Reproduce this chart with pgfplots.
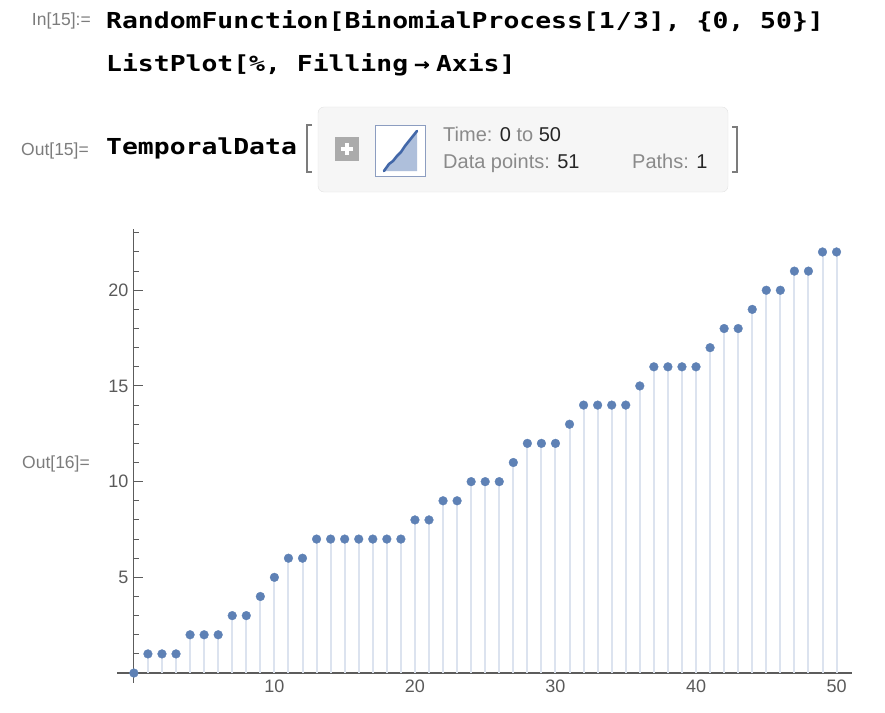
\documentclass[border=0pt]{standalone}
\usepackage{pgfplots}
\pgfplotsset{compat=1.18}
\usepackage{pgfplotstable}
\usepackage{fontspec}
\setmainfont{Liberation Sans}
\newfontfamily\codefont{DejaVu Sans Mono}

\definecolor{markblue}{HTML}{5E81B5}
\definecolor{stemblue}{HTML}{DCE3EF}
\definecolor{axgray}{HTML}{5C5C5C}
\definecolor{lblgray}{HTML}{5A5A5A}
\definecolor{promptgray}{HTML}{7C7C7C}
\definecolor{boxfill}{HTML}{F6F6F6}
\definecolor{boxline}{HTML}{E2E2E2}
\definecolor{infogray}{HTML}{8A8A8A}
\definecolor{thumbline}{HTML}{4267A8}
\definecolor{thumbfill}{HTML}{AEBFDB}
\definecolor{thumbframe}{HTML}{8C9DC0}

\newcommand\code[1]{\scalebox{1.2}[1]{\codefont\bfseries\fontsize{22bp}{26bp}\selectfont #1}}
\newcommand\prompt[1]{{\color{promptgray}\fontsize{17.5bp}{20bp}\selectfont #1}}
\newcommand\info{\fontsize{20bp}{24bp}\selectfont\color{infogray}}
\newcommand\num[1]{{\color{black!85}#1}}

% counts of the binomial process, t = 0..50
\pgfplotstableread{
t  n
0  0
1  1
2  1
3  1
4  2
5  2
6  2
7  3
8  3
9  4
10 5
11 6
12 6
13 7
14 7
15 7
16 7
17 7
18 7
19 7
20 8
21 8
22 9
23 9
24 10
25 10
26 10
27 11
28 12
29 12
30 12
31 13
32 14
33 14
34 14
35 14
36 15
37 16
38 16
39 16
40 16
41 17
42 18
43 18
44 19
45 20
46 20
47 21
48 21
49 22
50 22
}\counts

\begin{document}
\begin{tikzpicture}
\begin{scope}[x=1bp,y=-1bp]
  \path[use as bounding box] (0,0) rectangle (885,713);
  % input cell
  \node[anchor=base east,inner sep=0] at (91,26) {\prompt{In[15]:=}};
  \node[anchor=base west,inner sep=0] at (106,29) {\code{RandomFunction[BinomialProcess[1\kern1bp/\kern1bp3], \{0, 50\}]}};
  \node[anchor=base west,inner sep=0] at (106,72) {\code{ListPlot[\%, Filling\kern5bp→\kern5bp Axis]}};
  % output 15
  \node[anchor=base east,inner sep=0] at (89,156) {\prompt{Out[15]=}};
  \node[anchor=base west,inner sep=0] at (106,155) {\code{TemporalData}};
  \filldraw[fill=boxfill,draw=boxline,rounded corners=6] (318,107) rectangle (728,192);
  \draw[promptgray,line width=1.2] (312,125) -- (307,125) -- (307,172) -- (312,172);
  \draw[promptgray,line width=1.2] (732,127) -- (737,127) -- (737,172) -- (732,172);
  \fill[black!33] (335,137) rectangle (359,161);
  \draw[white,line width=3.5] (341,149) -- (353,149) (347,143) -- (347,155);
  \filldraw[fill=white,draw=thumbframe,line width=1] (375,125) rectangle (425,176);
  \fill[thumbfill] (384,171) -- (389,164) -- (393,161) -- (397,156) -- (401,152) -- (405,146) -- (409,141) -- (413,136) -- (417,131) -- (417,171) -- cycle;
  \draw[thumbline,line width=2.6,line cap=round] (384,171) -- (389,164) -- (393,161) -- (397,156) -- (401,152) -- (405,146) -- (409,141) -- (413,136) -- (417,131);
  \node[anchor=base west,inner sep=0] at (443,142) {\info Time: \num{0} to \num{50}};
  \node[anchor=base west,inner sep=0] at (443,169) {\info Data points: \num{51}};
  \node[anchor=base west,inner sep=0] at (632,169) {\info Paths: \num{1}};
  % output 16
  \node[anchor=base east,inner sep=0] at (90,468) {\prompt{Out[16]=}};
\end{scope}

\begin{axis}[
  at={(117bp,-682.6bp)}, anchor=south west,
  scale only axis, width=735bp, height=453.6bp,
  xmin=-1.2, xmax=51.1, ymin=-0.5, ymax=23.2,
  axis lines=middle,
  axis line style={-, draw=axgray, line width=1.1bp},
  xtick={10,20,30,40,50}, minor xtick={0,2,...,50},
  ytick={5,10,15,20}, minor ytick={1,...,23},
  tick align=inside,
  major tick length=9bp, minor tick length=5bp,
  every tick/.style={draw=axgray, line width=1bp},
  tick label style={font=\fontsize{18bp}{20bp}\selectfont, text=lblgray},
  xticklabel style={yshift=-3bp},
  yticklabel style={xshift=-2bp},
  /pgf/number format/assume math mode=true,
  clip=false,
]
\addplot[ycomb, draw=stemblue, line width=2bp, mark=*, mark size=4.4bp,
  mark options={solid, draw=markblue, fill=markblue, line width=0.3bp}] table[x=t, y=n] {\counts};
\end{axis}
\end{tikzpicture}
\end{document}
